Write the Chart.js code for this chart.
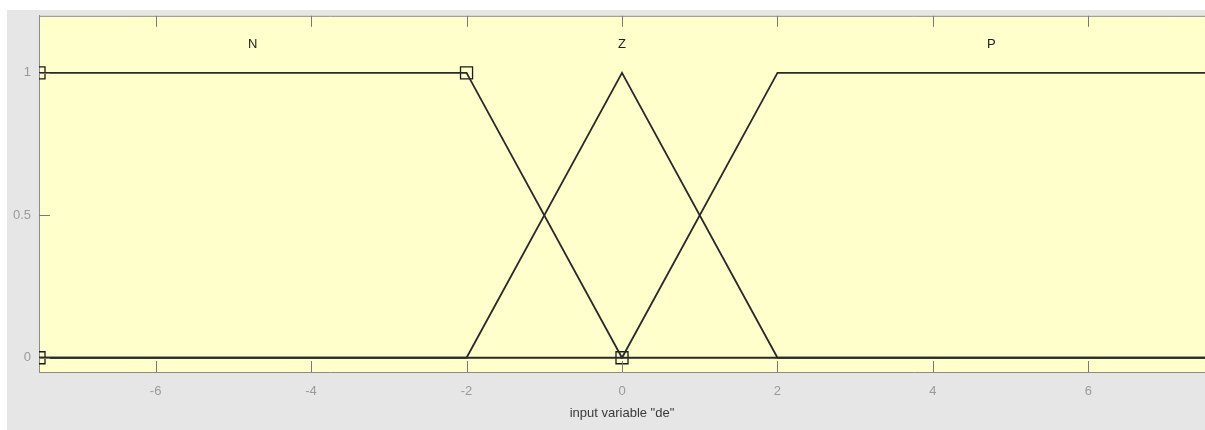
<!DOCTYPE html>
<html>
<head>
<meta charset="utf-8">
<script src="https://cdn.jsdelivr.net/npm/chart.js@4.4.1/dist/chart.umd.min.js"></script>
<style>
  html, body { margin: 0; padding: 0; background: #ffffff; }
  #wrap { width: 1205px; height: 430px; }
</style>
</head>
<body>
<div id="wrap"><canvas id="grafico" width="1205" height="430"></canvas></div>
<script>
// membership functions of "de"
const mfN_x = [-7.5, -2, 0, 7.5];
const mfN_y = [1, 1, 0, 0];
const mfZ_x = [-7.5, -2, 0, 2, 7.5];
const mfZ_y = [0, 0, 1, 0, 0];
const mfP_x = [-7.5, 0, 2, 7.5];
const mfP_y = [0, 0, 1, 1];

// vertices of the selected MF (N), shown as squares
const verticeX = [-7.5, -7.5, -2, 0];
const verticeY = [0, 1, 1, 0];

const mfNomes = ['N', 'Z', 'P'];
const mfNomeX = [-4.75, 0, 4.75];
const mfNomeY = 1.1;

const ticksX = [-6, -4, -2, 0, 2, 4, 6];
const ticksY = [0, 0.5, 1];
const limX = [-7.5, 7.5];
const limY = [-0.05, 1.2];
const tituloX = 'input variable "de"';

function pontos(xs, ys) {
  const out = [];
  for (let i = 0; i < xs.length; i++) {
    out.push({ x: xs[i], y: ys[i] });
  }
  return out;
}

const corLinha = '#2a2a2a';

const fundo = {
  id: 'fundo',
  beforeDraw(chart) {
    const ctx = chart.ctx;
    const a = chart.chartArea;
    ctx.save();
    ctx.fillStyle = '#ffffff';
    ctx.fillRect(0, 0, chart.width, chart.height);
    ctx.fillStyle = '#e6e6e6';
    ctx.fillRect(7, 10, chart.width - 7, chart.height - 10);
    ctx.fillStyle = '#ffffcc';
    ctx.fillRect(a.left, a.top, a.right - a.left, a.bottom - a.top);
    ctx.restore();
  },
  afterDraw(chart) {
    const ctx = chart.ctx;
    const a = chart.chartArea;
    const sx = chart.scales.x;
    const sy = chart.scales.y;
    ctx.save();
    // top border
    ctx.strokeStyle = '#8c8c84';
    ctx.lineWidth = 1;
    ctx.beginPath();
    ctx.moveTo(a.left, a.top + 0.5);
    ctx.lineTo(a.right, a.top + 0.5);
    ctx.stroke();
    // inward ticks
    ctx.strokeStyle = '#7a7a72';
    ctx.beginPath();
    ticksX.forEach(v => {
      const px = Math.round(sx.getPixelForValue(v)) + 0.5;
      ctx.moveTo(px, a.bottom);
      ctx.lineTo(px, a.bottom - 11);
      ctx.moveTo(px, a.top);
      ctx.lineTo(px, a.top + 11);
    });
    ticksY.forEach(v => {
      const py = Math.round(sy.getPixelForValue(v)) + 0.5;
      ctx.moveTo(a.left, py);
      ctx.lineTo(a.left + 11, py);
    });
    ctx.stroke();
    // MF names
    ctx.fillStyle = '#222222';
    ctx.font = '13px "Liberation Sans", Arial, sans-serif';
    ctx.textAlign = 'center';
    ctx.textBaseline = 'middle';
    for (let i = 0; i < mfNomes.length; i++) {
      ctx.fillText(mfNomes[i], sx.getPixelForValue(mfNomeX[i]), sy.getPixelForValue(mfNomeY));
    }
    ctx.restore();
  }
};

const ctx1 = document.getElementById('grafico');

new Chart(ctx1, {
  type: 'scatter',
  data: {
    datasets: [{
      label: 'N',
      data: pontos(mfN_x, mfN_y),
      showLine: true,
      borderColor: corLinha,
      borderWidth: 1.8,
      pointRadius: 0
    }, {
      label: 'Z',
      data: pontos(mfZ_x, mfZ_y),
      showLine: true,
      borderColor: corLinha,
      borderWidth: 1.8,
      pointRadius: 0
    }, {
      label: 'P',
      data: pontos(mfP_x, mfP_y),
      showLine: true,
      borderColor: corLinha,
      borderWidth: 1.8,
      pointRadius: 0
    }, {
      label: 'vertices',
      data: pontos(verticeX, verticeY),
      showLine: false,
      pointStyle: 'rect',
      pointRadius: 8.5,
      pointBorderWidth: 1.3,
      pointBorderColor: '#1a1a1a',
      pointBackgroundColor: 'rgba(0,0,0,0)',
      clip: 0
    }]
  },
  options: {
    responsive: false,
    animation: false,
    events: [],
    layout: { autoPadding: false, padding: { left: 0, top: 14, right: 0, bottom: 0 } },
    plugins: {
      legend: { display: false },
      tooltip: { enabled: false }
    },
    scales: {
      x: {
        type: 'linear',
        min: limX[0],
        max: limX[1],
        afterBuildTicks: (scale) => { scale.ticks = ticksX.map(v => ({ value: v })); },
        afterFit: (scale) => { scale.height = 58; },
        grid: { display: false, drawTicks: false },
        border: { display: true, color: '#8c8c84', width: 1 },
        ticks: {
          color: '#9a9a9a',
          padding: 12,
          maxRotation: 0,
          callback: (v) => String(v),
          font: { size: 13, family: '"Liberation Sans", Arial, sans-serif' }
        },
        title: {
          display: true,
          text: tituloX,
          color: '#3a3a3a',
          padding: { top: 0, bottom: 9 },
          font: { size: 13, family: '"Liberation Sans", Arial, sans-serif' }
        }
      },
      y: {
        type: 'linear',
        min: limY[0],
        max: limY[1],
        afterBuildTicks: (scale) => { scale.ticks = ticksY.map(v => ({ value: v })); },
        afterFit: (scale) => { scale.width = 39; },
        grid: { display: false, drawTicks: false },
        border: { display: true, color: '#8c8c84', width: 1 },
        ticks: {
          color: '#9a9a9a',
          padding: 8,
          callback: (v) => String(v),
          font: { size: 13, family: '"Liberation Sans", Arial, sans-serif' }
        }
      }
    }
  },
  plugins: [fundo]
});
</script>
</body>
</html>
